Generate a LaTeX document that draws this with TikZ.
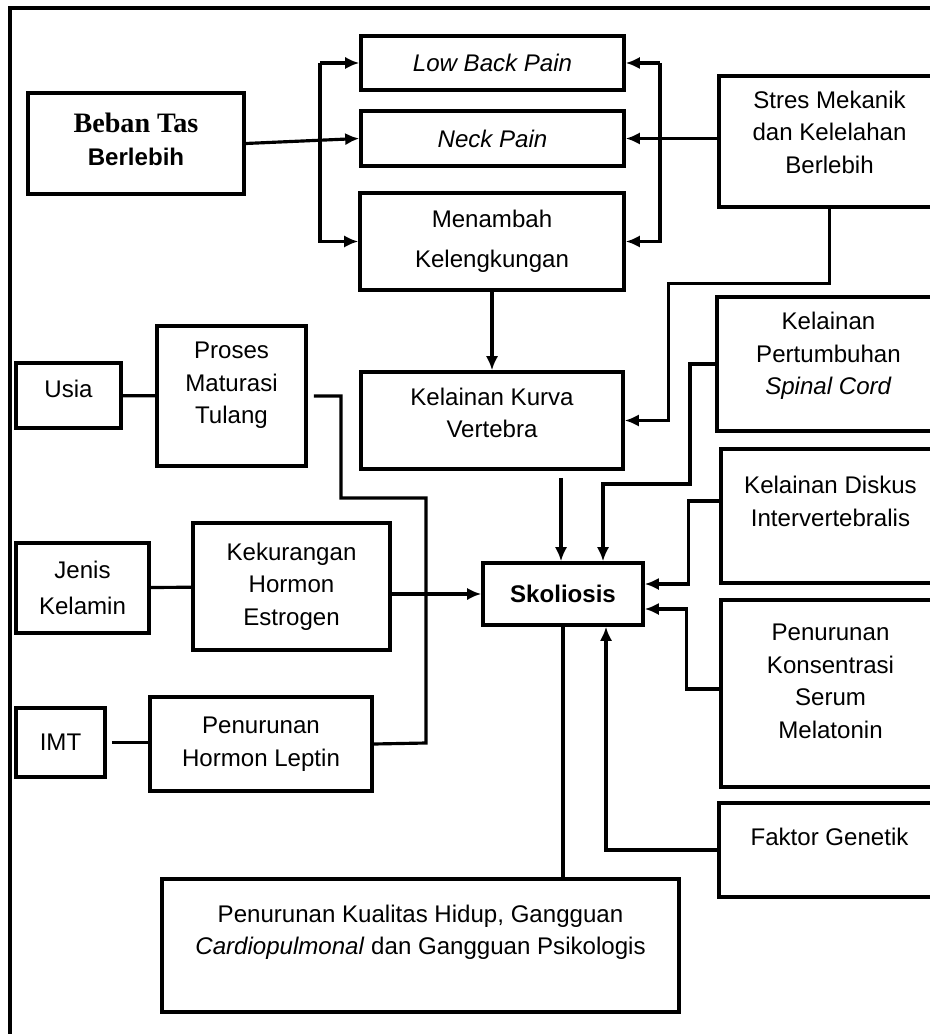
\documentclass[tikz,border=0pt]{standalone}
\usepackage{fontspec}
\setmainfont{Liberation Sans}
\newfontfamily\tnr{Liberation Serif}
\usetikzlibrary{arrows.meta,calc}
\newcommand{\padb}[1]{\rule[-#1]{0pt}{#1}}
\begin{document}
\begin{tikzpicture}[
  box/.style={draw,line width=2pt,align=center,inner sep=0pt,font=\fontsize{13.7}{18.5}\selectfont},
  ln/.style={line width=1.8pt},
  arr/.style={line width=1.8pt,-{Latex[length=8pt,width=7pt]}}]
\useasboundingbox (0,0) rectangle (18.58,-20.68);
\draw[line width=1.8pt] (0.2,-20.9) -- (0.2,-0.16) -- (18.8,-0.16);

\node[box,minimum width=4.32cm,minimum height=2.02cm] (beban) at (2.72,-2.87) {{\tnr\bfseries\fontsize{16}{18.5}\selectfont Beban Tas}\\\textbf{Berlebih}\padb{5pt}};
\node[box,minimum width=5.26cm,minimum height=1.08cm] (lbp) at (9.85,-1.26) {\textit{Low Back Pain}};
\node[box,minimum width=5.26cm,minimum height=1.10cm] (neck) at (9.85,-2.77) {\textit{Neck Pain}};
\node[box,minimum width=5.28cm,minimum height=1.94cm] (tambah) at (9.84,-4.83) {Menambah\\[4pt]Kelengkungan};
\node[box,minimum width=4.42cm,minimum height=2.62cm] (stres) at (16.59,-2.83) {Stres Mekanik\\dan Kelelahan\\Berlebih\padb{11pt}};
\node[box,minimum width=4.46cm,minimum height=2.68cm] (spinal) at (16.57,-7.28) {Kelainan\\Pertumbuhan\\\textit{Spinal Cord}\padb{12pt}};
\node[box,minimum width=5.24cm,minimum height=1.94cm] (kurva) at (9.84,-8.41) {Kelainan Kurva\\Vertebra\padb{9pt}};
\node[box,minimum width=3.2cm,minimum height=1.24cm] (skol) at (11.26,-11.88) {\textbf{Skoliosis}};
\node[box,minimum width=4.38cm,minimum height=2.68cm] (diskus) at (16.61,-10.32) {Kelainan Diskus\\Intervertebralis\padb{17pt}};
\node[box,minimum width=4.38cm,minimum height=3.74cm] (melat) at (16.61,-13.87) {Penurunan\\Konsentrasi\\Serum\\Melatonin\padb{14pt}};
\node[box,minimum width=4.42cm,minimum height=1.88cm] (genetik) at (16.59,-17.0) {Faktor Genetik\padb{15pt}};
\node[box,minimum width=2.10cm,minimum height=1.30cm] (usia) at (1.37,-7.91) {Usia\padb{8pt}};
\node[box,minimum width=2.98cm,minimum height=2.80cm] (proses) at (4.63,-7.92) {Proses\\Maturasi\\Tulang\padb{15pt}};
\node[box,minimum width=2.66cm,minimum height=1.80cm] (jenis) at (1.65,-11.76) {Jenis\\[2pt]Kelamin};
\node[box,minimum width=3.94cm,minimum height=2.54cm] (estrogen) at (5.83,-11.73) {Kekurangan\\Hormon\\Estrogen};
\node[box,minimum width=1.78cm,minimum height=1.38cm] (imt) at (1.21,-14.85) {IMT};
\node[box,minimum width=4.44cm,minimum height=1.88cm] (leptin) at (5.22,-14.88) {Penurunan\\Hormon Leptin};
\node[box,minimum width=10.34cm,minimum height=2.66cm] (kualitas) at (8.41,-18.91) {Penurunan Kualitas Hidup, Gangguan\\\textit{Cardiopulmonal} dan Gangguan Psikologis\padb{18pt}};

\coordinate (bl) at (6.4,0);
\coordinate (br) at (13.2,0);
\draw[arr] (beban.east) -- (neck.west);
\draw[arr] (lbp.west -| bl) -- (lbp.west);
\draw[arr] (lbp.west -| bl) |- (tambah.west);
\draw[arr] (lbp.east -| br) -- (lbp.east);
\draw[arr] (lbp.east -| br) |- (tambah.east);
\draw[arr] (neck.east -| stres.west) -- (neck.east);
\draw[arr] (stres.south) -- ++(0,-1.5) -| ($(kurva.east)+(0.88,0)$) -- (kurva.east);
\draw[arr] (tambah.south) -- (kurva.north);
\draw[arr] ($(kurva.south -| skol.north)+(-0.04,-0.14)$) -- ($(skol.north)+(-0.04,0)$);
\draw[arr] (spinal.west) -| (13.8,-9.68) -| ($(skol.north)+(0.8,0)$);
\draw[arr] ($(diskus.west)+(0,0.3)$) -- ++(-0.62,0) |- ($(skol.east)+(0,0.2)$);
\draw[arr] ($(melat.west)+(0,0.09)$) -- ++(-0.66,0) |- ($(skol.east)+(0,-0.3)$);
\draw[arr] (genetik.west) -| ($(skol.south)+(0.86,0)$);
\draw[ln] (skol.south) -- (skol.south |- kualitas.north);
\draw[arr] (skol.west -| estrogen.east) -- (skol.west);
\draw[ln] (usia) -- (proses);
\draw[ln] (jenis) -- (estrogen);
\draw[ln] ($(imt.east)+(0.1,0)$) -- (imt.east -| leptin.west);
\draw[ln] ($(proses.east)+(0.12,0)$) -| (6.82,-9.96) -| (8.52,-14.86) -- (leptin.east);
\end{tikzpicture}
\end{document}
